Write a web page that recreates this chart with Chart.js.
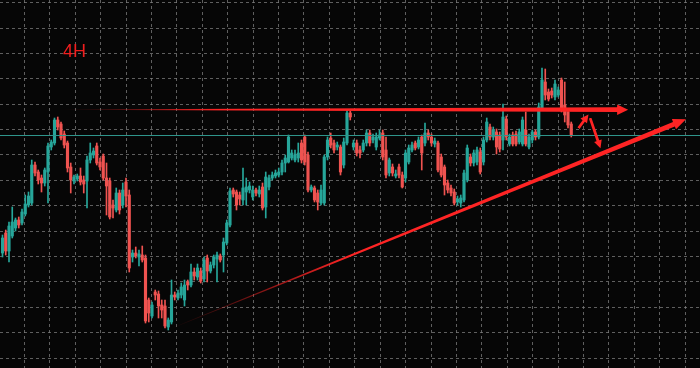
<!DOCTYPE html>
<html lang="en">
<head>
<meta charset="UTF-8">
<title>4H</title>
<script src="https://cdn.jsdelivr.net/npm/chart.js@4.4.1/dist/chart.umd.min.js"></script>
<style>
  html, body { margin: 0; padding: 0; background: #060606; }
  #wrap { width: 700px; height: 368px; }
</style>
</head>
<body>
<div id="wrap"><canvas id="chart"></canvas></div>
<script>
// 4H candles, prices in chart points
const open = [
  115,135,117,132,140,148,145,154,163,165,
  203,196,190,185,196,221,225,248,244,234,
  225,201,187,189,192,188,187,208,213,222,
  206,212,190,187,163,158,175,163,186,173,
  111,115,111,113,110,68,52,76,74,63,
  62,41,46,73,70,73,68,86,83,96,
  91,97,89,110,97,103,109,112,113,125,
  143,178,176,173,168,176,178,171,178,174,
  181,161,181,190,192,193,196,205,206,210,
  208,210,225,231,213,178,180,175,165,165,
  211,230,225,221,221,203,225,255,221,225,
  218,218,225,235,228,221,230,235,218,195,
  201,192,201,193,190,206,218,225,221,231,
  225,235,231,224,225,211,201,185,180,176,
  166,165,168,188,211,205,206,216,206,228,
  241,231,236,233,228,249,224,233,234,226,
  224,238,221,228,236,231,260,286,276,277,
  271,273,288,263,256,244
];
const high = [
  133,138,146,161,150,151,159,173,176,208,
  206,198,193,200,225,228,250,251,246,237,
  227,205,193,194,200,192,212,225,220,225,
  210,214,205,190,168,180,178,185,190,178,
  118,121,118,122,113,70,66,78,77,68,
  68,50,88,76,78,85,88,88,104,100,
  104,100,111,113,106,113,116,114,130,148,
  180,180,178,176,200,190,186,182,180,182,
  185,196,193,196,198,200,208,213,233,218,
  218,225,228,233,216,183,182,178,183,213,
  231,235,228,226,223,230,258,257,228,228,
  222,228,238,238,234,235,238,238,231,210,
  204,198,204,196,218,223,226,227,231,233,
  245,238,234,230,227,214,203,188,183,179,
  172,173,198,223,214,218,221,220,231,250,
  244,241,239,236,264,252,234,236,237,239,
  251,256,234,238,238,265,300,299,279,280,
  288,281,290,286,258,246
];
const low = [
  111,113,106,130,137,140,143,152,161,163,
  192,184,176,182,165,218,223,238,228,220,
  196,175,184,187,183,175,160,205,210,203,
  198,188,153,149,150,156,154,160,161,96,
  106,110,102,106,45,46,50,68,50,50,
  40,38,44,68,68,70,62,78,81,88,
  88,85,86,86,95,100,86,106,96,123,
  141,171,158,163,163,163,175,168,172,171,
  158,150,178,188,190,191,193,196,205,208,
  206,206,205,203,176,176,166,158,163,163,
  208,220,215,218,193,200,223,248,218,212,
  210,216,222,222,225,218,228,208,190,192,
  192,190,190,180,186,204,216,218,219,198,
  222,228,222,221,196,191,173,175,172,163,
  163,161,166,186,202,202,203,194,203,226,
  228,228,214,216,218,228,222,222,222,224,
  222,222,219,225,228,229,258,268,267,270,
  268,271,256,246,240,231
];
const close = [
  130,117,142,146,148,143,156,164,172,203,
  195,188,185,198,222,226,248,241,230,223,
  200,188,191,192,186,184,208,215,217,205,
  201,190,182,151,160,175,158,178,172,100,
  115,112,114,108,47,55,63,73,62,58,
  42,48,73,71,75,81,83,83,96,92,
  100,87,108,97,103,111,113,108,126,145,
  177,174,163,169,180,181,182,178,175,178,
  160,191,190,193,195,196,205,210,231,215,
  213,215,208,206,178,181,168,166,178,211,
  228,223,218,223,196,226,255,251,225,215,
  215,225,235,225,231,231,233,211,193,208,
  195,194,193,181,215,220,223,220,228,215,
  235,231,225,227,198,193,183,178,175,165,
  169,170,195,220,205,215,218,196,228,246,
  231,238,221,219,251,231,231,224,224,236,
  248,224,231,236,231,261,288,273,269,273,
  284,278,259,253,243,232.5
];

// drawn objects: [candle index, price]
const arrowStartX = [17.7, 51.5, 177.2, 180.8];
const arrowStartY = [258.3, 39, 239.7, 250];
const arrowEndX = [192.5, 210.3, 180.3, 184.0];
const arrowEndY = [258.3, 248.7, 253.5, 219.7];
const chartLabel = '4H';

const bars = open.map((v, i) => i);
const bid = close[close.length - 1];

const UP = '#26a69a';
const DOWN = '#ef5350';
const colorOf = (c) => close[c.dataIndex] >= open[c.dataIndex] ? UP : DOWN;

const X_MIN = -0.769, X_MAX = 214.615;

const background = {
  id: 'background',
  beforeDraw(chart) {
    const ctx = chart.ctx;
    ctx.save();
    ctx.fillStyle = '#060606';
    ctx.fillRect(0, 0, chart.width, chart.height);
    ctx.restore();
  }
};

const arrows = {
  id: 'arrows',
  afterDatasetsDraw(chart, args, opts) {
    const { ctx, scales: { x, y } } = chart;
    ctx.save();
    arrowStartX.forEach((sx, k) => {
      const x0 = x.getPixelForValue(sx), y0 = y.getPixelForValue(arrowStartY[k]);
      const x1 = x.getPixelForValue(arrowEndX[k]), y1 = y.getPixelForValue(arrowEndY[k]);
      const st = opts.styles[k];
      const len = Math.hypot(x1 - x0, y1 - y0);
      const dx = (x1 - x0) / len, dy = (y1 - y0) / len;
      const nx = -dy, ny = dx;
      const bx = x1 - dx * st.head, by = y1 - dy * st.head;
      const g = ctx.createLinearGradient(x0, y0, x1, y1);
      g.addColorStop(0, 'rgba(255,34,34,0)');
      g.addColorStop(st.fade, opts.color);
      g.addColorStop(1, opts.color);
      ctx.fillStyle = g;
      ctx.beginPath();
      ctx.moveTo(x0 + nx * st.w0 / 2, y0 + ny * st.w0 / 2);
      ctx.lineTo(bx + nx * st.w1 / 2, by + ny * st.w1 / 2);
      ctx.lineTo(bx + nx * st.half, by + ny * st.half);
      ctx.lineTo(x1, y1);
      ctx.lineTo(bx - nx * st.half, by - ny * st.half);
      ctx.lineTo(bx - nx * st.w1 / 2, by - ny * st.w1 / 2);
      ctx.lineTo(x0 - nx * st.w0 / 2, y0 - ny * st.w0 / 2);
      ctx.closePath();
      ctx.fill();
    });
    ctx.font = opts.font;
    ctx.fillStyle = opts.labelColor;
    ctx.textBaseline = 'alphabetic';
    ctx.fillText(chartLabel, opts.labelX, opts.labelY);
    ctx.restore();
  }
};

new Chart(document.getElementById('chart'), {
  type: 'bar',
  data: {
    datasets: [
      {
        type: 'line',
        data: [{ x: X_MIN, y: bid }, { x: X_MAX, y: bid }],
        borderColor: '#2f958b',
        borderWidth: 1,
        pointRadius: 0,
        order: 0
      },
      {
        data: bars.map(i => ({ x: i, y: [open[i], close[i]] })),
        backgroundColor: colorOf,
        barThickness: 2.5,
        minBarLength: 1,
        grouped: false,
        borderWidth: 0,
        order: 1
      },
      {
        data: bars.map(i => ({ x: i, y: [low[i], high[i]] })),
        backgroundColor: colorOf,
        barThickness: 1,
        grouped: false,
        borderWidth: 0,
        order: 2
      }
    ]
  },
  options: {
    responsive: true,
    maintainAspectRatio: false,
    animation: false,
    layout: { padding: 0 },
    scales: {
      x: {
        type: 'linear',
        min: X_MIN,
        max: X_MAX,
        offset: false,
        afterBuildTicks: (s) => {
          const t = [];
          for (let v = 2.82; v < X_MAX; v += 7.82) t.push({ value: v });
          s.ticks = t;
        },
        ticks: { display: false },
        grid: { color: 'rgba(125,125,125,0.75)', drawTicks: false, lineWidth: 1 },
        border: { display: false, dash: [3, 3] }
      },
      y: {
        min: 0,
        max: 368,
        afterBuildTicks: (s) => {
          const t = [];
          for (let v = 10; v < 368; v += 25.38) t.push({ value: v });
          s.ticks = t;
        },
        ticks: { display: false },
        grid: { color: 'rgba(125,125,125,0.75)', drawTicks: false, lineWidth: 1 },
        border: { display: false, dash: [3, 3] }
      }
    },
    plugins: {
      legend: { display: false },
      tooltip: { enabled: false },
      arrows: {
        color: '#ff2424',
        labelColor: '#f01e1e',
        font: '18px "Liberation Sans", Arial, sans-serif',
        labelX: 63,
        labelY: 57,
        styles: [
          { w0: 0.3, w1: 4.8, head: 11, half: 5.2, fade: 0.28 },
          { w0: 0.3, w1: 5, head: 13, half: 5.5, fade: 0.35 },
          { w0: 2.6, w1: 2.8, head: 8, half: 4, fade: 0.01 },
          { w0: 2.6, w1: 2.8, head: 8, half: 4, fade: 0.01 }
        ]
      }
    }
  },
  plugins: [background, arrows]
});
</script>
</body>
</html>
